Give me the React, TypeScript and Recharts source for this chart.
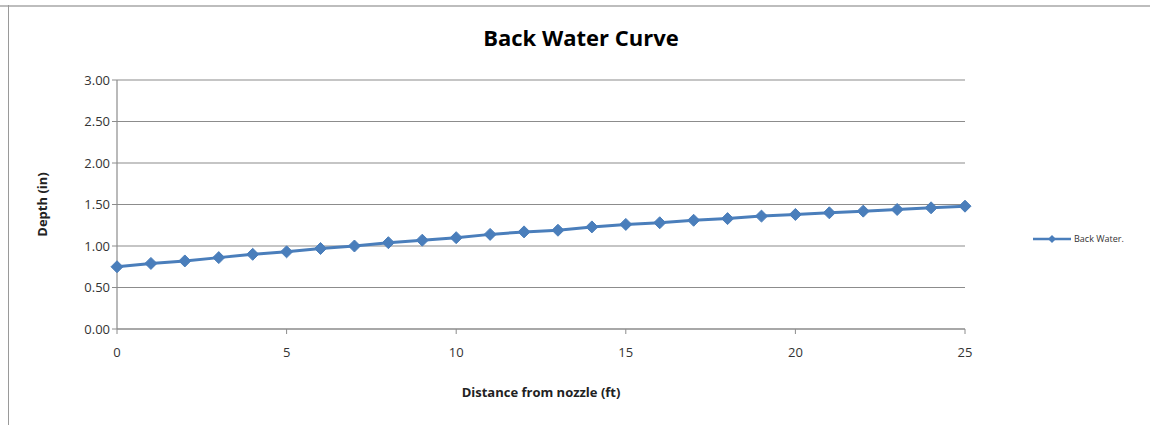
import React from 'react';
import { LineChart, Line, XAxis, YAxis, CartesianGrid, Legend } from 'recharts';

const distances = [0, 1, 2, 3, 4, 5, 6, 7, 8, 9, 10, 11, 12, 13, 14, 15, 16, 17, 18, 19, 20, 21, 22, 23, 24, 25];
const depths = [0.75, 0.79, 0.82, 0.86, 0.9, 0.93, 0.97, 1.0, 1.04, 1.07, 1.1, 1.14, 1.17, 1.19, 1.23, 1.26, 1.28, 1.31, 1.33, 1.36, 1.38, 1.4, 1.42, 1.44, 1.46, 1.48];
const xTicks = [0, 5, 10, 15, 20, 25];
const yTicks = [0, 0.5, 1, 1.5, 2, 2.5, 3];

const chartData = distances.map((d, i) => ({ distance: d, depth: depths[i] }));

const BLUE = '#4a7ebb';
const FONT = '"Open Sans", "Noto Sans", sans-serif';

const Diamond = (props: any) => {
  const { cx, cy } = props;
  if (cx == null || cy == null) return null;
  const r = 6;
  return (
    <path
      d={`M${cx},${cy - r} L${cx + r},${cy} L${cx},${cy + r} L${cx - r},${cy} Z`}
      fill={BLUE}
      stroke={BLUE}
      strokeWidth={1}
    />
  );
};

const LegendContent = () => (
  <div style={{ display: 'flex', alignItems: 'center', fontFamily: FONT, fontSize: 9, color: '#333' }}>
    <svg width={40} height={10}>
      <line x1={0} y1={5} x2={38} y2={5} stroke={BLUE} strokeWidth={2.5} />
      <path d="M19,1 L23,5 L19,9 L15,5 Z" fill={BLUE} />
    </svg>
    <span style={{ marginLeft: 1 }}>Back Water.</span>
  </div>
);

export default function App() {
  return (
    <div style={{ position: 'absolute', left: 0, top: 0, width: 1150, height: 425, background: '#fff', overflow: 'hidden' }}>
      <div style={{ position: 'absolute', left: 0, top: 0, width: 1150, height: 5, borderBottom: '2px solid #bdbdbd' }} />
      <div style={{ position: 'absolute', left: 8, top: 5, width: 1, height: 420, background: '#9a9a9a' }} />
      <div
        style={{
          position: 'absolute',
          left: 0,
          width: 1150,
          top: 22,
          textAlign: 'center',
          paddingLeft: 6,
          fontFamily: FONT,
          fontWeight: 700,
          fontSize: 22,
          color: '#000',
        }}
      >
        Back Water Curve
      </div>
      <LineChart
        width={1150}
        height={425}
        data={chartData}
        margin={{ top: 80, right: 75, bottom: 40, left: 57 }}
        style={{ fontFamily: FONT }}
      >
        <CartesianGrid horizontal vertical={false} stroke="#8c8c8c" strokeWidth={1.2} />
        <XAxis
          dataKey="distance"
          type="number"
          domain={[0, 25]}
          ticks={xTicks}
          axisLine={{ stroke: '#8c8c8c', strokeWidth: 1.2 }}
          tickLine={{ stroke: '#8c8c8c' }}
          tickSize={5}
          tick={{ fill: '#333', fontSize: 13, dy: 12 }}
          height={56}
          label={{ value: 'Distance from nozzle (ft)', position: 'insideBottom', offset: -12, fill: '#222', fontSize: 13, fontWeight: 700 }}
        />
        <YAxis
          type="number"
          domain={[0, 3]}
          ticks={yTicks}
          tickFormatter={(v: number) => v.toFixed(2)}
          axisLine={{ stroke: '#8c8c8c', strokeWidth: 1.2 }}
          tickLine={{ stroke: '#8c8c8c' }}
          tickSize={5}
          tick={{ fill: '#333', fontSize: 13 }}
          width={60}
          label={{ value: 'Depth (in)', angle: -90, position: 'insideLeft', offset: -15, fill: '#222', fontSize: 13, fontWeight: 700, style: { textAnchor: 'middle' } }}
        />
        <Legend
          layout="vertical"
          align="right"
          verticalAlign="middle"
          content={LegendContent}
          wrapperStyle={{ position: 'absolute', left: 1033, top: 232, width: 110 }}
        />
        <Line
          type="linear"
          dataKey="depth"
          name="Back Water."
          stroke={BLUE}
          strokeWidth={3}
          dot={<Diamond />}
          activeDot={false}
          isAnimationActive={false}
        />
      </LineChart>
    </div>
  );
}
